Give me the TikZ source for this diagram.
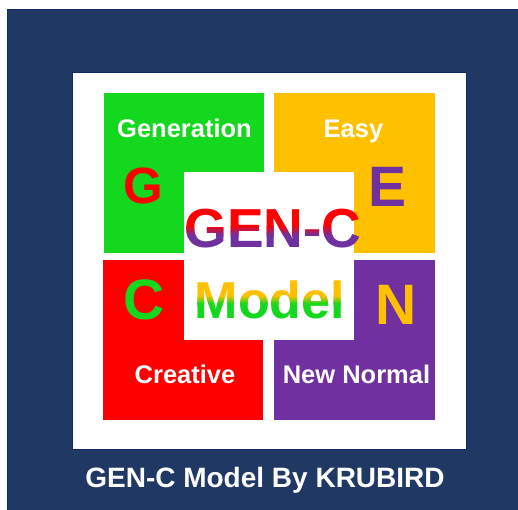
\documentclass[tikz,border=0pt]{standalone}
\usepackage{fontspec}
\setmainfont{Liberation Sans}
\definecolor{navy}{HTML}{1F3864}
\definecolor{navyline}{HTML}{0E2A62}
\definecolor{cgreen}{HTML}{14D81E}
\definecolor{cyellow}{HTML}{FFC000}
\definecolor{cred}{HTML}{FF0000}
\definecolor{cpurple}{HTML}{7030A0}
\tikzset{
  lbl/.style={text=white, font=\fontsize{25.5}{25.5}\selectfont\bfseries, anchor=base, inner sep=0pt},
  big/.style={font=\fontsize{57}{57}\selectfont\bfseries, anchor=base, inner sep=0pt},
  gbig/.style={font=\fontsize{#1}{#1}\selectfont\bfseries, anchor=base, inner sep=0pt},
  frame/.style={draw=navyline, line width=1pt},
}
% #1 name, #2 x, #3 baseline y, #4 text, #5 top colour, #6 bottom colour, #7 start, #8 end, #9 size
\newcommand{\gradword}[9]{%
  \foreach \k in {0,...,9}{%
    \pgfmathsetmacro\ya{\k==0 ? #7-100 : #7+(\k-1)*(#8-#7)/8}%
    \pgfmathsetmacro\yb{\k==9 ? #8+100 : #7+\k*(#8-#7)/8+0.4}%
    \pgfmathtruncatemacro\pc{min(100,max(0,(\k-0.5)*100/8))}%
    \begin{scope}
      \clip (#2-150,\ya) rectangle (#2+150,\yb);
      \node[gbig=#9, text=#6!\pc!#5] (#1\k) at (#2,#3) {#4};
    \end{scope}
  }%
}
\begin{document}
\begin{tikzpicture}[x=1pt,y=-1pt]
  \useasboundingbox (0,0) rectangle (518,509);
  \fill[white] (0,0) rectangle (518,509);
  \filldraw[fill=navy, frame] (7.5,9) rectangle (530,520);
  \filldraw[fill=white, frame] (72,72) rectangle (466,449);
  % tiles
  \fill[cgreen]  (104,93)  rectangle (264,253);
  \fill[cyellow] (274,93)  rectangle (435,253);
  \fill[cred]    (103,260) rectangle (263,420);
  \fill[cpurple] (274,260) rectangle (435,420);
  \fill[white]   (184,172) rectangle (354,340);
  % labels
  \node[lbl] (gen) at (184.5,137) {Generation};
  \node[lbl] (easy) at (353.5,137) {Easy};
  \node[lbl] (crea) at (185,383) {Creative};
  \node[lbl] (newn) at (356.5,383) {New Normal};
  % big letters
  \node[big, text=cred, font=\fontsize{51}{51}\selectfont\bfseries] (lg) at (143,203) {G};
  \node[big, text=cpurple] (le) at (388,206) {E};
  \node[big, text=cgreen] (lc) at (144,319) {C};
  \node[big, text=cyellow] (ln) at (396,324) {N};
  % gradient words
  \gradword{genc}{273}{247}{GEN-C}{cred}{cpurple}{226}{236}{55}
  \gradword{model}{270}{318}{Model}{cyellow}{cgreen}{296}{305}{52}
  % caption
  \node[text=white, font=\fontsize{28}{28}\selectfont\bfseries, anchor=base, inner sep=0pt] (cap) at (265,487) {GEN-C Model By KRUBIRD};
\end{tikzpicture}
\end{document}
